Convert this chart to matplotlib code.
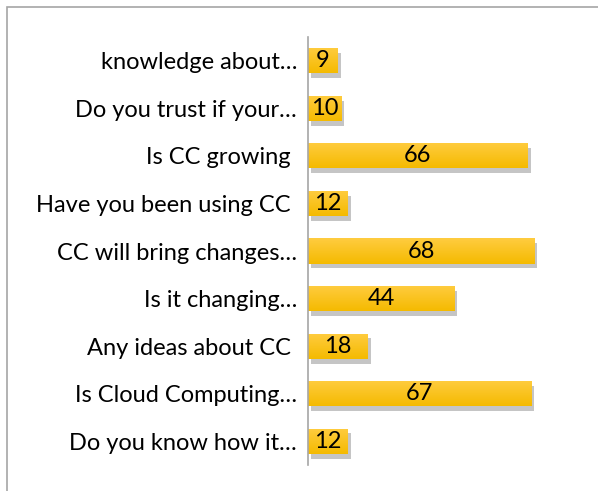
import matplotlib
matplotlib.use("Agg")
import matplotlib.pyplot as plt
from matplotlib.patches import Rectangle
import matplotlib.patheffects as pe
import numpy as np

categories = ["knowledge about…", "Do you trust if your…", "Is CC growing ",
              "Have you been using CC ", "CC will bring changes…", "Is it changing…",
              "Any ideas about CC ", "Is Cloud Computing…", "Do you know how it…"]
values = [9, 10, 66, 12, 68, 44, 18, 67, 12]

W, H = 598, 491
plt.rcParams['font.family'] = ['Lato', 'DejaVu Sans']
fig = plt.figure(figsize=(W/100, H/100), dpi=100)

# outer frame
fig.patches.append(Rectangle((6.5/W, -0.1), 1.2, (H-6.5)/H + 0.1, transform=fig.transFigure,
                             fill=False, edgecolor='#A6A6A6', lw=1.2))

ax_left, ax_right = 308/W, 590/W
ax_top, ax_bot = 1 - 37/H, 1 - 465/H
ax = fig.add_axes([ax_left, ax_bot, ax_right-ax_left, ax_top-ax_bot])

n = len(categories)
y = np.arange(n)[::-1]
bars = ax.barh(y, values, height=0.53, color='#FFC000', edgecolor='none',
               path_effects=[pe.SimplePatchShadow(offset=(2, -3.5), shadow_rgbFace='#7F7F7F', alpha=0.45),
                             pe.Normal()])
grad = np.linspace(0, 1, 64).reshape(-1, 1)
top_c = np.array([1.0, 0.80, 0.25])
bot_c = np.array([0.96, 0.73, 0.0])
img = (grad[:, :, None] * top_c + (1 - grad[:, :, None]) * bot_c)
for b in bars:
    x0, y0 = b.get_x(), b.get_y()
    w, h = b.get_width(), b.get_height()
    im = ax.imshow(img, extent=(x0, x0 + w, y0, y0 + h), origin='lower', aspect='auto',
                   zorder=b.get_zorder() + 0.1, interpolation='bilinear')
    im.set_clip_path(b)

for yi, v in zip(y, values):
    ax.text(v/2, yi, str(v), ha='center', va='center', fontsize=17, color='black', zorder=5)

ax.set_xlim(0, 282/3.333)
ax.set_ylim(-0.5, n-0.5)
ax.set_aspect('auto')
ax.set_yticks(y)
ax.set_yticklabels(categories, fontsize=17)
ax.tick_params(axis='y', length=0, pad=8)
ax.set_xticks([])
for s in ['top', 'right', 'bottom']:
    ax.spines[s].set_visible(False)
ax.spines['left'].set_color('#A6A6A6')
ax.spines['left'].set_linewidth(1.2)
ax.patch.set_alpha(0)

fig.savefig('out.png', dpi=100)
